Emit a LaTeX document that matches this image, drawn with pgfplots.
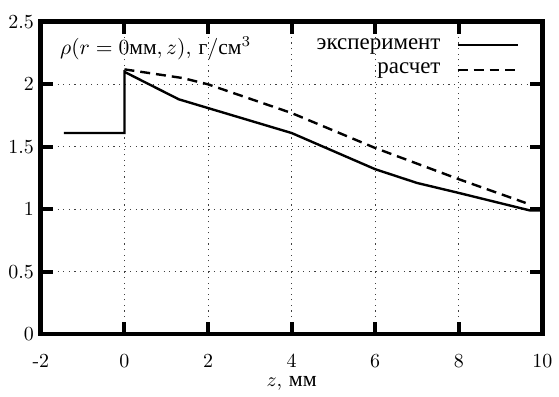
\documentclass[border=0pt]{standalone}
\usepackage{fontspec}
\usepackage{pgfplots}
\pgfplotsset{compat=1.18}
\newfontfamily\cyr{Liberation Serif}
\begin{document}
\begin{tikzpicture}
\begin{axis}[
  scale only axis, width=251.5pt, height=156.5pt,
  xmin=-2, xmax=10, ymin=0, ymax=2.5,
  xtick={-2,0,...,10}, xticklabels={-2,0,2,4,6,8,10},
  ytick={0,0.5,...,2.5}, yticklabels={0,0.5,1,1.5,2,2.5},
  grid=major,
  major grid style={black!75, line width=0.5pt, dash pattern=on 0.6pt off 2.2pt},
  tick align=inside,
  major tick length=6pt,
  major tick style={black, line width=2pt},
  axis line style={black, line width=1.5pt},
  xticklabel style={yshift=-6.5pt},
  xlabel={$z$, {\cyr\fontsize{11}{13}\selectfont мм}},
  xlabel style={yshift=2.5pt},
  legend style={draw=none, fill=none, at={(rel axis cs:0.958,0.968)}, anchor=north east,
    font=\cyr\fontsize{11.5}{13}\selectfont, row sep=1.5pt, inner sep=1pt},
  legend plot pos=right,
  legend cell align=right,
  legend image code/.code={\path (0cm,0cm); \draw[#1] (0.21cm,0cm) -- (1.27cm,0cm);},
  clip=false,
]
\addplot[black, line width=1.2pt] coordinates {
  (-1.45,1.61) (0,1.61) (0,2.1) (1.3,1.88) (2,1.81) (4,1.61) (6,1.32) (7,1.21) (8,1.13) (9.7,0.99) (10,0.99)};
\addlegendentry{эксперимент}
\addplot[black, line width=1.2pt, dash pattern=on 5pt off 3pt] coordinates {
  (0,2.12) (1.4,2.05) (2,2.0) (4,1.77) (6,1.49) (8,1.24) (9.6,1.05)};
\addlegendentry{расчет}
\draw[black, line width=2.5pt] (rel axis cs:0,0) rectangle (rel axis cs:1,1);
\node[anchor=west, inner sep=0pt, scale=1.08] at (axis cs:-1.55,2.29) {$\rho(r=0${\cyr мм}$, z)$, {\cyr г}$/${\cyr см}$^3$};
\end{axis}
\path ([shift={(-20.5pt,-31pt)}]current axis.south west) rectangle ([shift={(7.5pt,11pt)}]current axis.north east);
\end{tikzpicture}
\end{document}
